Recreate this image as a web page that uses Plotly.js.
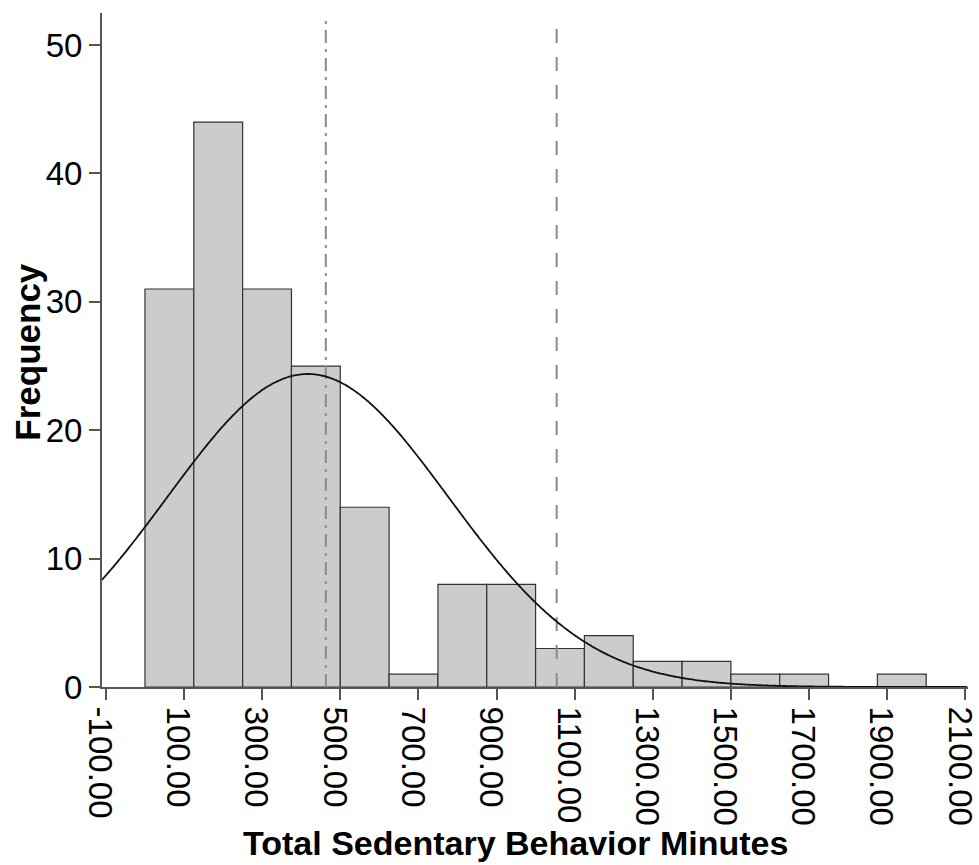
<!DOCTYPE html>
<html>
<head>
<meta charset="utf-8">
<script src="https://cdn.plot.ly/plotly-3.0.1.min.js"></script>
<style>html,body{margin:0;padding:0;background:#fff;}#chart{width:979px;height:865px;}</style>
</head>
<body>
<div id="chart"></div>
<script>
// Histogram bins (lower edges, width 125) and frequencies
const binStarts = [0, 125, 250, 375, 500, 625, 750, 875, 1000, 1125, 1250, 1375, 1500, 1625, 1750, 1875];
const binWidth = 125;
const frequencies = [31, 44, 31, 25, 14, 1, 8, 8, 3, 4, 2, 2, 1, 1, 0, 1];
// Fitted normal curve parameters
const fitMean = 417;
const fitSD = 360;
// Reference lines
const refLineDashDot = [463];
const refLineDash = [1054];
// Axis ticks
const xTicks = [-100, 100, 300, 500, 700, 900, 1100, 1300, 1500, 1700, 1900, 2100];
const xTickLabels = ["-100.00", "100.00", "300.00", "500.00", "700.00", "900.00", "1100.00", "1300.00", "1500.00", "1700.00", "1900.00", "2100.00"];
const yTicks = [0, 10, 20, 30, 40, 50];
const xTitle = "Total Sedentary Behavior Minutes";
const yTitle = "Frequency";

const xRange = [-110, 2107];
const yRange = [0, 52.5];

const n = frequencies.reduce((a, b) => a + b, 0);
const centers = binStarts.map(s => s + binWidth / 2);

// Normal density scaled to histogram counts
const curveX = [];
const curveY = [];
for (let x = xRange[0]; x <= xRange[1]; x += 5) {
  curveX.push(x);
  const z = (x - fitMean) / fitSD;
  curveY.push(n * binWidth / (fitSD * Math.sqrt(2 * Math.PI)) * Math.exp(-0.5 * z * z));
}

const FONT = 'Arial, "Liberation Sans", sans-serif';

const traces = [
  {
    type: 'bar',
    x: centers,
    y: frequencies,
    width: binWidth,
    marker: {color: '#cccccc', line: {color: '#333333', width: 1.2}},
    hoverinfo: 'x+y'
  },
  {
    type: 'scatter', mode: 'lines',
    x: [refLineDashDot[0], refLineDashDot[0]], y: [0, 52],
    line: {color: '#8a8a8a', width: 2, dash: '13px,6px,3px,6px'}
  },
  {
    type: 'scatter', mode: 'lines',
    x: [refLineDash[0], refLineDash[0]], y: [0, 52],
    line: {color: '#8a8a8a', width: 2, dash: '14px,14px'}
  },
  {
    type: 'scatter', mode: 'lines',
    x: curveX, y: curveY,
    line: {color: '#111111', width: 1.8, shape: 'spline'}
  }
];

const layout = {
  width: 979, height: 865,
  margin: {l: 102, r: 11, t: 13, b: 178},
  paper_bgcolor: '#ffffff', plot_bgcolor: '#ffffff',
  showlegend: false,
  bargap: 0,
  font: {family: FONT, color: '#000000'},
  xaxis: {
    range: xRange,
    tickvals: xTicks,
    ticktext: xTickLabels,
    tickangle: 90,
    ticklabelshift: -6,
    ticklabeloverflow: 'allow',
    ticks: 'outside', ticklen: 11, tickwidth: 2, tickcolor: '#555555',
    showline: true, linecolor: '#555555', linewidth: 2,
    showgrid: false, zeroline: false,
    tickfont: {family: FONT, size: 33, color: '#000000'}
  },
  yaxis: {
    range: yRange,
    tickvals: yTicks,
    ticks: 'outside', ticklen: 11, tickwidth: 2, tickcolor: '#555555',
    showline: true, linecolor: '#555555', linewidth: 2,
    showgrid: false, zeroline: false,
    tickfont: {family: FONT, size: 33, color: '#000000'}
  },
  annotations: [
    {
      text: xTitle, xref: 'paper', yref: 'paper',
      x: 0.478, y: -0.232, xanchor: 'center', yanchor: 'middle', showarrow: false,
      font: {family: FONT, size: 34, color: '#000000', weight: 'bold'}
    },
    {
      text: yTitle, xref: 'paper', yref: 'paper',
      x: -0.087, y: 0.497, xanchor: 'center', yanchor: 'middle', showarrow: false, textangle: -90,
      font: {family: FONT, size: 35, color: '#000000', weight: 'bold'}
    }
  ]
};

Plotly.newPlot('chart', traces, layout, {displayModeBar: false, staticPlot: true});
</script>
</body>
</html>
